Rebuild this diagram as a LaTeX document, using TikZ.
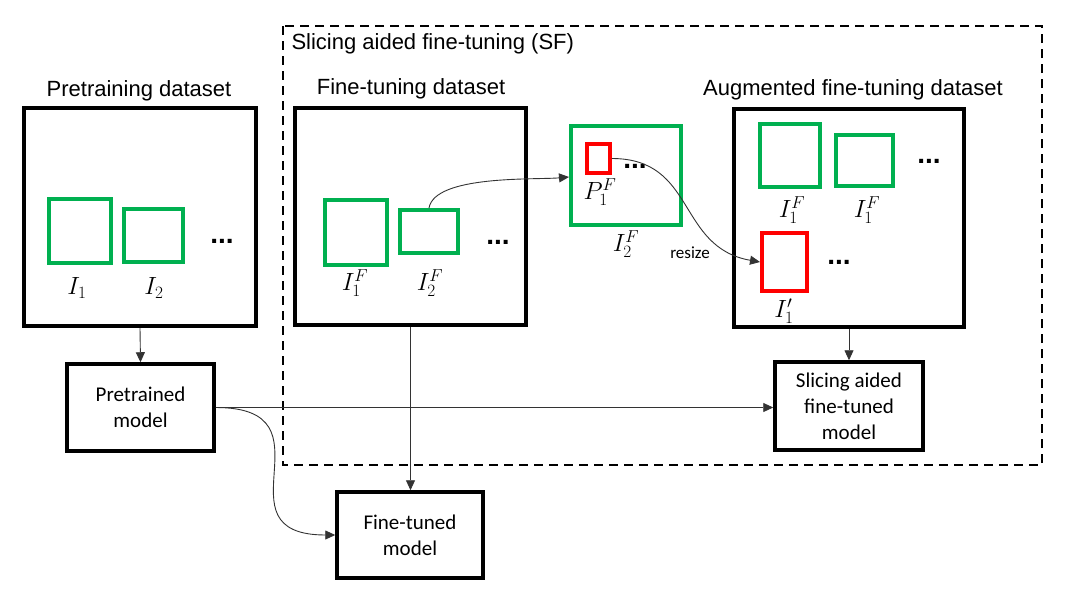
\documentclass[tikz,border=0pt]{standalone}
\usepackage{fontspec}
\usepackage{amsmath}
\usepackage{amssymb}
\setmainfont{Liberation Sans}
\newfontfamily\calibri{Carlito}
\usetikzlibrary{arrows.meta,positioning}
\definecolor{imggreen}{HTML}{00B050}
\definecolor{cropred}{HTML}{FF0000}
\tikzset{
	dataset/.style={draw, line width=4pt, inner sep=0pt},
	img/.style={draw=imggreen, line width=4pt, inner sep=0pt},
	patch/.style={draw=cropred, line width=4pt, inner sep=0pt},
	model/.style={draw, line width=3.5pt, align=center, inner sep=0pt, font=\calibri\fontsize{21}{26}\selectfont},
	head/.style={font=\fontsize{22}{26}\selectfont},
	lbl/.style={font=\fontsize{23}{26}\selectfont},
	dotstyle/.style={inner sep=0pt, font=\bfseries\fontsize{28}{30}\selectfont},
	flow/.style={draw=black!80, line width=0.9pt, -{Triangle[length=10pt,width=9pt]}},
}

\begin{document}
\begin{tikzpicture}[x=1pt,y=-1pt]
	\useasboundingbox (0,0) rectangle (1080,600);
	
	% slicing aided fine-tuning frame
	\draw[line width=2.2pt, dash pattern=on 9pt off 6pt] (283,26) rectangle (1042,465);
	\node[head, anchor=west] (sftitle) at (288,44) {Slicing aided fine-tuning (SF)};
	
	\node[dataset, minimum width=232pt, minimum height=218pt] (pre) at (140,217) {};
	\node[head] (pretitle) at (139,91) {Pretraining dataset};
	\node[dataset, minimum width=231pt, minimum height=217pt] (ft) at (410.5,216.5) {};
	\node[head] (fttitle) at (411,89) {Fine-tuning dataset};
	\node[dataset, minimum width=230pt, minimum height=218pt] (aug) at (849,218) {};
	\node[head] (augtitle) at (853,90) {Augmented fine-tuning dataset};
	
	\foreach \nm/\x/\y/\w/\h/\lx/\ly/\txt in {i1/80/231/62/64/77/288/{I_1},
		i2/153.5/235.5/59/53/154/288/{I_2},
		ift1/356/232.5/62/65/355/283/{I_1^F},
		ift2/429/231.5/58/43/430/283/{I_2^F},
		big/626/175.5/110/99/626/244/{I_2^F},
		aug1/790/155.5/60/63/792/210/{I_1^F},
		aug2/864.5/160.5/57/51/867/210/{I_1^F}}
	{
		\node[img, minimum width=\w pt, minimum height=\h pt] (\nm) at (\x,\y) {};
		\node[lbl] (\nm-l) at (\lx,\ly) {$\txt$};
	}
	
	\node[patch, line width=3.5pt, minimum width=23pt, minimum height=29pt] (p1) at (598.5,158.5) {};
	\node[lbl] (p1-l) at (600,192) {$P_1^F$};
	\node[patch, minimum width=45pt, minimum height=58pt] (ip1) at (784.5,262) {};
	\node[lbl] (ip1-l) at (784,311) {$I_1'$};
	
	\foreach \x/\y[count=\j] in {222/241,498/242,635/166,929/161,839/262}
		\node[dotstyle] (dots\j) at (\x,\y) {...};
	
	\node[model, minimum width=147pt, minimum height=87pt] (pm) at (140.5,407.5) {Pretrained\\model};
	\node[model, minimum width=148pt, minimum height=88pt] (sfm) at (849,406) {Slicing aided\\fine-tuned\\model};
	\node[model, minimum width=146pt, minimum height=86pt] (ftm) at (410,535) {Fine-tuned\\model};
	
	\draw[flow] (ift2.north) to[out=80,in=185,looseness=0.6] (big.west |- 0,177);
	\draw[flow] (p1.east) to[out=0,in=170,looseness=1.2] (ip1.west);
	\node[font=\calibri\fontsize{17}{19}\selectfont] (rs) at (690,253) {resize};
	\draw[flow] (pre.south) -- (pm.north);
	\draw[flow] (ft.south) -- (ft.south |- ftm.north);
	\draw[flow] (aug.south) -- (sfm.north);
	\draw[flow] (pm.east) -- (sfm.west |- pm.east);
	\draw[flow] (pm.east) to[out=0,in=180,looseness=1.8] (ftm.west);
\end{tikzpicture}
\end{document}
